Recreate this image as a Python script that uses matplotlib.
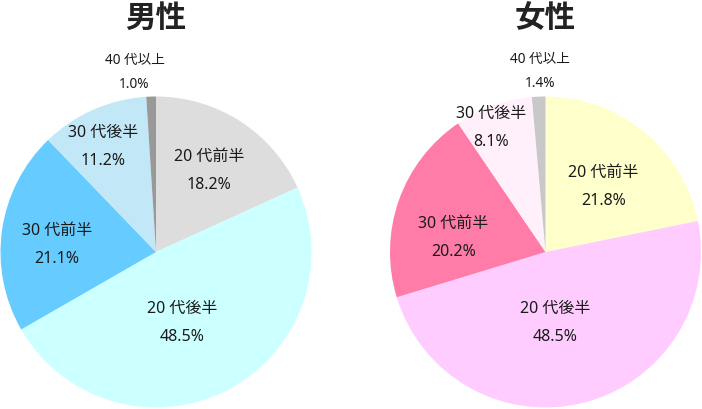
import numpy as np
import matplotlib
matplotlib.use('Agg')
import matplotlib.pyplot as plt

plt.rcParams['font.family'] = ['Noto Sans', 'Noto Sans CJK JP', 'DejaVu Sans']

# Dados
categorias = ['20 代前半', '20 代後半', '30 代前半', '30 代後半', '40 代以上']
titulos = ['男性', '女性']
valores_homem = [18.2, 48.5, 21.1, 11.2, 1.0]
valores_mulher = [21.8, 48.5, 20.2, 8.1, 1.4]

cores_homem = ['#dddddd', '#ccffff', '#66ccff', '#c2e7f7', '#999999']
cores_mulher = ['#ffffcc', '#ffccff', '#ff7ba8', '#fff0fc', '#c8c8c8']

# posicao dos rotulos (fracao do raio, desvio de angulo em graus)
raio_homem = [0.63, 0.48, 0.64, 0.76, 1.17]
desvio_homem = [0, -7, 3.5, 3, 5]
raio_mulher = [0.565, 0.455, 0.60, 0.88, 1.17]
desvio_mulher = [-1.8, -6.5, 10, 4, -0.8]

fig = plt.figure(figsize=(7.02, 4.10), dpi=100)
R = 155.5  # raio em pixels


def desenha(ax, valores, cores, raios, desvios, titulo):
    wedges, _ = ax.pie(valores, colors=cores, startangle=90, counterclock=False,
                       radius=1, wedgeprops=dict(linewidth=0))
    ax.set_xlim(-1, 1)
    ax.set_ylim(-1, 1)
    ax.set_aspect('equal')
    ax.axis('off')
    for k, w in enumerate(wedges):
        ang = np.deg2rad((w.theta1 + w.theta2) / 2 + desvios[k])
        x = raios[k] * np.cos(ang)
        y = raios[k] * np.sin(ang)
        if k == len(wedges) - 1:
            tam = 9.8
            d = 12 / R
        else:
            tam = 11.5
            d = 14 / R
        ax.text(x, y + d, categorias[k], ha='center', va='center',
                fontsize=tam, color='#1a1a1a')
        ax.text(x, y - d, '%.1f%%' % valores[k], ha='center', va='center',
                fontsize=tam, color='#1a1a1a')
    ax.text(0, (392 - 157) / R, titulo, ha='center', va='center',
            fontsize=22, fontweight='bold', color='#222222',
            family=['Noto Sans CJK JP', 'DejaVu Sans'])


ax1 = fig.add_axes([(156 - R) / 702, (410 - 253 - R) / 410, 2 * R / 702, 2 * R / 410])
desenha(ax1, valores_homem, cores_homem, raio_homem, desvio_homem, titulos[0])

ax2 = fig.add_axes([(545.5 - R) / 702, (410 - 253 - R) / 410, 2 * R / 702, 2 * R / 410])
desenha(ax2, valores_mulher, cores_mulher, raio_mulher, desvio_mulher, titulos[1])

fig.savefig('out.png', dpi=100)
